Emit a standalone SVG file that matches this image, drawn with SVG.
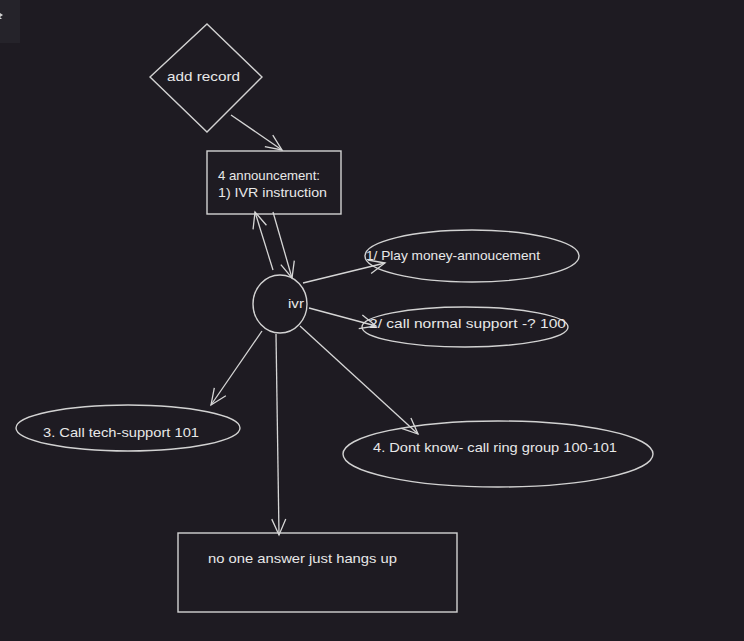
<svg xmlns="http://www.w3.org/2000/svg" width="744" height="641" viewBox="0 0 744 641">
<defs>
<marker id="ah" viewBox="0 0 20 20" refX="18" refY="10" markerWidth="20" markerHeight="20" markerUnits="userSpaceOnUse" orient="auto">
<path d="M2,3 L18,10 L2,17" fill="none" stroke="#d6d6d6" stroke-width="1.3"/>
</marker>
<style>
.s{fill:none;stroke:#d2d2d2;stroke-width:1.4}
.c{fill:none;stroke:#d6d6d6;stroke-width:1.3}
text{font-family:"Liberation Sans",Arial,sans-serif;font-size:13px;fill:#e8e8e8}
</style>
</defs>
<rect width="744" height="641" fill="#1e1b22"/>
<rect x="0" y="0" width="20" height="43" fill="#25232a"/>
<path d="M0,13 L3,15 L0,17 Z M0,17 L2,19 L0,19 Z" fill="#d0d0d0"/>
<g id="node-add-record">
<polygon class="s" points="207,24 262,77 207,132 150,77"/>
<text x="167" y="81" textLength="73" lengthAdjust="spacingAndGlyphs">add record</text>
</g>
<g id="node-announcement">
<rect class="s" x="207" y="151" width="134" height="63"/>
<text x="218" y="180" textLength="102" lengthAdjust="spacingAndGlyphs">4 announcement:</text>
<text x="218" y="197" textLength="109" lengthAdjust="spacingAndGlyphs">1) IVR instruction</text>
</g>
<g id="node-ivr">
<ellipse class="s" cx="280" cy="304" rx="27" ry="29"/>
<text x="288" y="308" textLength="16" lengthAdjust="spacingAndGlyphs">ivr</text>
</g>
<g id="node-play">
<ellipse class="s" cx="472" cy="256" rx="107" ry="26"/>
<text x="366" y="260" textLength="174" lengthAdjust="spacingAndGlyphs">1/ Play money-annoucement</text>
</g>
<g id="node-normal">
<ellipse class="s" cx="465" cy="327" rx="103" ry="20"/>
<text x="369" y="328" textLength="197" lengthAdjust="spacingAndGlyphs">2/ call normal support -? 100</text>
</g>
<g id="node-tech">
<ellipse class="s" cx="128" cy="428" rx="112" ry="23"/>
<text x="43" y="437" textLength="156" lengthAdjust="spacingAndGlyphs">3. Call tech-support 101</text>
</g>
<g id="node-ring">
<ellipse class="s" cx="498" cy="454" rx="155" ry="33"/>
<text x="373" y="452" textLength="244" lengthAdjust="spacingAndGlyphs">4. Dont know- call ring group 100-101</text>
</g>
<g id="node-hangup">
<rect class="s" x="178" y="533" width="279" height="79"/>
<text x="208" y="563" textLength="189" lengthAdjust="spacingAndGlyphs">no one answer just hangs up</text>
</g>
<g id="connectors">
<line class="c" x1="231" y1="115" x2="282" y2="150" marker-end="url(#ah)"/>
<line class="c" x1="273" y1="270" x2="255" y2="212" marker-end="url(#ah)"/>
<line class="c" x1="273" y1="212" x2="292" y2="278" marker-end="url(#ah)"/>
<line class="c" x1="303" y1="283" x2="385" y2="263" marker-end="url(#ah)"/>
<line class="c" x1="309" y1="308" x2="376" y2="326" marker-end="url(#ah)"/>
<line class="c" x1="262" y1="331" x2="211" y2="405" marker-end="url(#ah)"/>
<line class="c" x1="300" y1="326" x2="418" y2="434" marker-end="url(#ah)"/>
<line class="c" x1="276" y1="334" x2="279" y2="535" marker-end="url(#ah)"/>
</g>
</svg>
